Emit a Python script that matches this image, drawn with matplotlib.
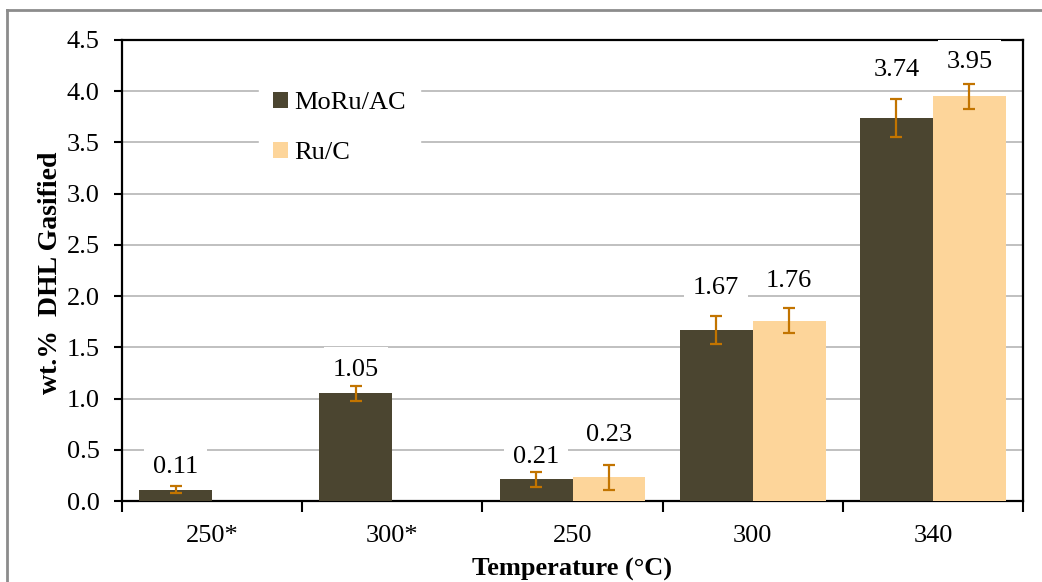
import numpy as np
import matplotlib
matplotlib.use("Agg")
import matplotlib.pyplot as plt
from matplotlib.patches import Patch
from matplotlib.lines import Line2D
from matplotlib.path import Path

# Data
categories = ["250*", "300*", "250", "300", "340"]
series_names = ["MoRu/AC", "Ru/C"]
moru_values = [0.11, 1.05, 0.21, 1.67, 3.74]
moru_errors = [0.035, 0.075, 0.07, 0.14, 0.185]
ruc_values = [np.nan, np.nan, 0.23, 1.76, 3.95]
ruc_errors = [np.nan, np.nan, 0.125, 0.12, 0.125]
y_ticks = [0.0, 0.5, 1.0, 1.5, 2.0, 2.5, 3.0, 3.5, 4.0, 4.5]

# Value-label lift above each bar top, in points (labels were hand-placed)
moru_label_lift = [18.5, 19.0, 18.0, 32.0, 36.6]
ruc_label_lift = [0, 0, 32.7, 30.7, 26.2]

plt.rcParams["font.family"] = ["Liberation Serif", "DejaVu Serif"]

C_MORU = "#4B4530"
C_RUC = "#FDD59A"
C_ERR = "#C27400"
C_GRID = "#C0C0C0"
FS = 19


def label_box(x0, y0, width, height, mutation_size):
    """White label box: roomy above the text, tight below it."""
    side = 0.33 * mutation_size
    top = 0.45 * mutation_size
    bottom = 0.06 * mutation_size
    xa, xb = x0 - side, x0 + width + side
    ya, yb = y0 - bottom, y0 + height + top
    return Path([(xa, ya), (xb, ya), (xb, yb), (xa, yb), (xa, ya)],
                closed=True)


fig = plt.figure(figsize=(10.42, 5.82), dpi=100)
ax = fig.add_axes([122 / 1042, 1 - 501 / 582, 901 / 1042, 461 / 582])

x = np.arange(len(categories))
width = 0.405

series = [
    (moru_values, moru_errors, moru_label_lift, C_MORU, -width / 2),
    (ruc_values, ruc_errors, ruc_label_lift, C_RUC, width / 2),
]

for vals, errs, lifts, color, off in series:
    vals = np.asarray(vals, dtype=float)
    errs = np.asarray(errs, dtype=float)
    lifts = np.asarray(lifts, dtype=float)
    ok = np.isfinite(vals)
    xs = x[ok] + off
    ax.bar(xs, vals[ok], width=width, color=color, zorder=3)
    ax.errorbar(xs, vals[ok], yerr=errs[ok], fmt="none", ecolor=C_ERR,
                elinewidth=1.6, capsize=4.2, capthick=1.6, zorder=4)
    for xi, v, lift in zip(xs, vals[ok], lifts[ok]):
        ax.annotate(f"{v:.2f}", xy=(xi, v), xytext=(0, lift),
                    textcoords="offset points", ha="center",
                    va="center_baseline", fontsize=FS, zorder=6,
                    annotation_clip=False,
                    bbox=dict(boxstyle=label_box, fc="white", ec="none"))

ax.set_xlim(-0.5, len(categories) - 0.5)
ax.set_ylim(0, 4.5)
ax.set_yticks(y_ticks)
ax.set_yticklabels([f"{t:.1f}" for t in y_ticks], fontsize=FS)
for t in y_ticks[1:-1]:
    ax.axhline(t, color=C_GRID, lw=1.4, zorder=1)

ax.set_xticks(x)
ax.set_xticklabels(categories, fontsize=FS)
ax.set_xticks(np.arange(len(categories) + 1) - 0.5, minor=True)
ax.tick_params(axis="x", which="major", length=0, pad=17.5)
ax.tick_params(axis="x", which="minor", length=8, width=1.5, direction="out")
ax.tick_params(axis="y", length=6, width=1.5, direction="out", pad=10)

for s in ax.spines.values():
    s.set_linewidth(1.6)
    s.set_color("black")

ax.set_ylabel("wt.%  DHL Gasified", fontsize=20, fontweight="bold")
ax.yaxis.set_label_coords(-0.065, 0.495)
ax.set_xlabel("Temperature (\u00b0C)", fontsize=FS, fontweight="bold")
ax.xaxis.set_label_coords(0.5, -0.124)

handles = [Patch(facecolor=C_MORU, edgecolor="none"),
           Patch(facecolor=C_RUC, edgecolor="none")]
leg = ax.legend(handles, series_names, loc="upper left",
                bbox_to_anchor=(0.137, 0.948), fontsize=FS, frameon=True,
                fancybox=False, framealpha=1, facecolor="white",
                edgecolor="white", handlelength=0.55, handleheight=0.55,
                handletextpad=0.25, labelspacing=1.05, borderpad=0.55)
leg.set_zorder(5)

# Outer chart border (left and top edges)
fig.add_artist(Line2D([7 / 1042, 7 / 1042], [0, 1 - 10 / 582],
                      transform=fig.transFigure, color="#8C8C8C", lw=2))
fig.add_artist(Line2D([7 / 1042, 1], [1 - 10 / 582, 1 - 10 / 582],
                      transform=fig.transFigure, color="#8C8C8C", lw=2))

fig.savefig("out.png", dpi=100, facecolor="white")
